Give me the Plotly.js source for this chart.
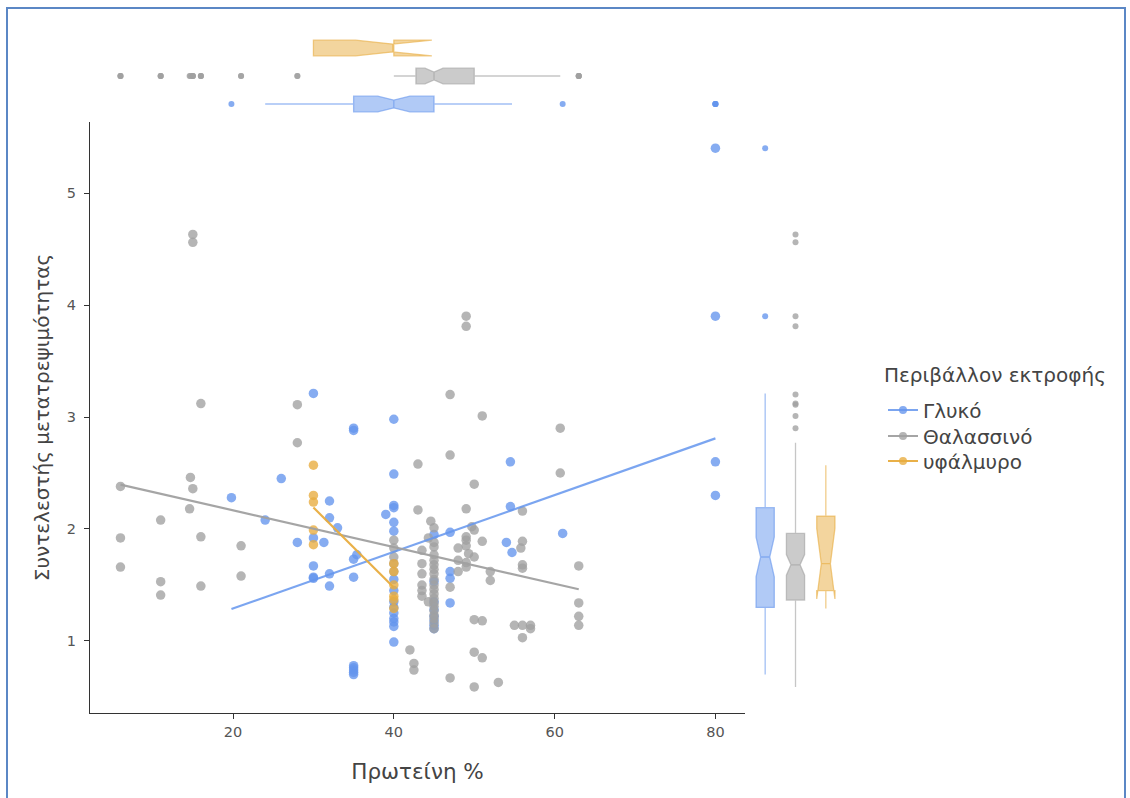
<!DOCTYPE html>
<html>
<head>
<meta charset="utf-8">
<script src="https://cdn.plot.ly/plotly-3.0.1.min.js"></script>
<style>html,body{margin:0;padding:0;background:#fff;}#chart{width:1130px;height:798px;}</style>
</head>
<body>
<div id="chart"></div>
<script>
// ---------- data ----------
const groups = ['Γλυκό', 'Θαλασσινό', 'υφάλμυρο'];
const legendTitle = 'Περιβάλλον εκτροφής';

const blueX = [80,80,80,80, 19.8,26,24,28, 30,30,30,30,30, 31.3, 32,32,32,32, 33,
  35,35,35.4,35,35,35,35,35,35,35, 39,
  40,40,40,40,40,40,40,40,40,40,40,40,40,40,40,
  45,45,45,45,45,45,45,45, 47,47,47,47, 54.5,54.5,54,54.7, 61];
const blueY = [5.40,3.90,2.60,2.30, 2.28,2.45,2.08,1.88, 3.21,1.92,1.67,1.57,1.56, 1.88, 2.25,2.10,1.60,1.49, 2.01,
  2.90,2.88,1.77,1.73,1.57,0.78,0.76,0.74,0.72,0.70, 2.13,
  2.98,2.49,2.21,2.19,2.06,1.98,1.55,1.45,1.35,1.30,1.25,1.20,1.17,1.13,0.99,
  1.95,1.53,1.35,1.28,1.22,1.18,1.14,1.11, 1.97,1.62,1.56,1.34, 2.60,2.20,1.88,1.79, 1.96];

const greyX = [6,6,6, 11,11,11, 14.6,14.7,15,15,15, 16,16,16, 21,21, 28,28,
  40,40,40,40,40, 42, 42.5,42.5, 43,43, 43.5,43.5,43.5,43.5,43.5,43.5, 44.3,44.3,44.6,
  45,45,45,45,45,45,45,45,45,45,45,45, 45,45,45,45,45,45,45,45,
  47,47,47,47, 48,48,48,
  49,49,49,49,49,49,49,49,49.3,49.7, 50,50,50,50,50,50, 51,51,51,51, 52,52, 53, 55,
  56,56,56,56,56,56,55.8, 57,57, 60.7,60.7, 63,63,63,63];
const greyY = [2.38,1.92,1.66, 2.08,1.53,1.41, 2.18,2.46,4.63,4.56,2.36, 3.12,1.93,1.49, 1.85,1.58, 3.11,2.77,
  1.90,1.83,1.75,1.69,1.62, 0.92, 0.80,0.74, 2.58,2.17, 1.81,1.69,1.60,1.50,1.45,1.40, 1.92,1.35,2.07,
  2.01,1.84,1.77,1.68,1.60,1.55,1.46,1.38,1.31,1.23,1.16,1.11, 1.88,1.72,1.64,1.50,1.42,1.34,1.27,1.20,
  3.20,2.66,1.48,0.67, 1.83,1.72,1.62,
  3.90,3.81,2.18,1.93,1.90,1.85,1.70,1.66,1.78,2.02, 2.40,1.99,1.75,1.19,0.90,0.59, 3.01,1.89,1.18,0.85, 1.62,1.54, 0.63, 1.14,
  2.16,1.89,1.68,1.65,1.14,1.03,1.83, 1.14,1.11, 2.90,2.50, 1.67,1.34,1.22,1.14];

const orangeX = [30,30,30,30,30, 40,40,40,40,40,40];
const orangeY = [2.57,2.30,2.24,1.99,1.86, 1.69,1.62,1.50,1.40,1.37,1.29];

const xTicks = [20, 40, 60, 80];
const yTicks = [1, 2, 3, 4, 5];

// ---------- styles ----------
const ptCol   = ['rgba(100,149,237,0.78)', 'rgba(160,160,160,0.78)', 'rgba(232,172,62,0.78)'];
const lineCol = ['rgba(100,149,237,0.85)', 'rgba(160,160,160,0.95)', 'rgba(232,172,62,0.95)'];
const boxFill = ['rgba(100,149,237,0.5)', 'rgba(160,160,160,0.55)', 'rgba(232,172,62,0.5)'];
const boxLine = ['rgba(100,149,237,0.6)', 'rgba(160,160,160,0.6)', 'rgba(232,172,62,0.6)'];
const FONT = '"DejaVu Sans", Verdana, sans-serif';
const legendIds = ['legend', 'legend2', 'legend3'];

const xs = [blueX, greyX, orangeX];
const ys = [blueY, greyY, orangeY];

function fit(x, y) {
  const n = x.length;
  const mx = x.reduce((a, b) => a + b, 0) / n;
  const my = y.reduce((a, b) => a + b, 0) / n;
  let sxy = 0, sxx = 0;
  for (let i = 0; i < n; i++) { sxy += (x[i] - mx) * (y[i] - my); sxx += (x[i] - mx) ** 2; }
  const b = sxy / sxx, a = my - b * mx;
  const x0 = Math.min(...x), x1 = Math.max(...x);
  return { x: [x0, x1], y: [a + b * x0, a + b * x1] };
}

const traces = [];
groups.forEach((g, i) => {
  traces.push({
    type: 'scatter', mode: 'markers', x: xs[i], y: ys[i], xaxis: 'x', yaxis: 'y',
    marker: { color: ptCol[i], size: 9.5, line: { width: 0 } },
    showlegend: false, name: g
  });
});
groups.forEach((g, i) => {
  const f = fit(xs[i], ys[i]);
  traces.push({
    type: 'scatter', mode: 'lines', x: f.x, y: f.y, xaxis: 'x', yaxis: 'y',
    line: { color: lineCol[i], width: 2.2 }, showlegend: false, name: g
  });
});
groups.forEach((g, i) => {
  traces.push({
    type: 'box', orientation: 'h', x: xs[i], y: xs[i].map(() => g),
    xaxis: 'x', yaxis: 'y2', name: g, showlegend: false,
    notched: true, notchwidth: 0.25, width: 0.56, whiskerwidth: 0,
    boxpoints: 'outliers', quartilemethod: 'inclusive',
    fillcolor: boxFill[i], line: { color: boxLine[i], width: 1.3 },
    marker: { color: ptCol[i], size: 6, line: { width: 0 } }
  });
});
groups.forEach((g, i) => {
  traces.push({
    type: 'box', orientation: 'v', y: ys[i], x: ys[i].map(() => g),
    xaxis: 'x3', yaxis: 'y', name: g, showlegend: false,
    notched: true, notchwidth: 0.25, width: 0.6, whiskerwidth: 0,
    boxpoints: 'outliers', quartilemethod: 'inclusive',
    fillcolor: boxFill[i], line: { color: boxLine[i], width: 1.3 },
    marker: { color: ptCol[i], size: 6, line: { width: 0 } }
  });
});
groups.forEach((g, i) => {
  traces.push({
    type: 'scatter', mode: 'lines+markers', x: [null], y: [null], xaxis: 'x', yaxis: 'y',
    name: g, showlegend: true, legend: legendIds[i],
    line: { color: lineCol[i], width: 2.2 }, marker: { color: ptCol[i], size: 8 }
  });
});

const W = 1130, H = 798;
const px = v => v / W, py = v => (H - v) / H;

function legendAt(yPix) {
  return {
    x: px(883), y: py(yPix), xanchor: 'left', yanchor: 'middle',
    bgcolor: 'rgba(0,0,0,0)', font: { size: 20, color: '#444' },
    itemwidth: 30, borderwidth: 0
  };
}

const layout = {
  width: W, height: H,
  margin: { l: 0, r: 0, t: 0, b: 0 },
  paper_bgcolor: '#fff', plot_bgcolor: 'rgba(0,0,0,0)',
  font: { family: FONT, color: '#4d4d4d' },
  showlegend: true,
  xaxis: {
    domain: [px(90), px(745)], range: [2.21, 83.68], anchor: 'y',
    tickvals: xTicks, ticks: 'outside', ticklen: 5, tickcolor: '#333', tickwidth: 1,
    showline: true, linecolor: '#333', linewidth: 1.2, showgrid: false, zeroline: false,
    tickfont: { size: 14.5, color: '#555' },
    title: { text: 'Πρωτείνη %', font: { size: 21.5, color: '#444' }, standoff: 25 },
    automargin: false
  },
  yaxis: {
    domain: [py(713), py(122)], range: [0.357, 5.634], anchor: 'x',
    tickvals: yTicks, ticks: 'outside', ticklen: 5, tickcolor: '#333', tickwidth: 1,
    ticklabelstandoff: 5,
    showline: true, linecolor: '#333', linewidth: 1.2, showgrid: false, zeroline: false,
    tickfont: { size: 14.5, color: '#555' },
    title: { text: 'Συντελεστής μετατρεψιμότητας', font: { size: 20, color: '#444' }, standoff: 11 },
    automargin: false
  },
  yaxis2: {
    domain: [py(118), py(34)], anchor: 'x', type: 'category',
    categoryorder: 'array', categoryarray: groups, range: [-0.5, 2.5],
    visible: false, fixedrange: true
  },
  xaxis3: {
    domain: [px(750), px(841)], anchor: 'y', type: 'category',
    categoryorder: 'array', categoryarray: groups, range: [-0.5, 2.5],
    visible: false, fixedrange: true
  },
  boxmode: 'overlay',
  legend: legendAt(410),
  legend2: legendAt(436),
  legend3: legendAt(461),
  annotations: [{
    xref: 'paper', yref: 'paper', x: px(882), y: py(375), xanchor: 'left', yanchor: 'middle',
    text: legendTitle, showarrow: false, font: { size: 20, color: '#444' }
  }],
  shapes: [{
    type: 'rect', xref: 'paper', yref: 'paper',
    x0: px(7), x1: px(1125), y0: -0.02, y1: py(8),
    line: { color: '#5b87c5', width: 2 }, fillcolor: 'rgba(0,0,0,0)'
  }]
};

Plotly.newPlot('chart', traces, layout, { displayModeBar: false, staticPlot: true });
</script>
</body>
</html>
